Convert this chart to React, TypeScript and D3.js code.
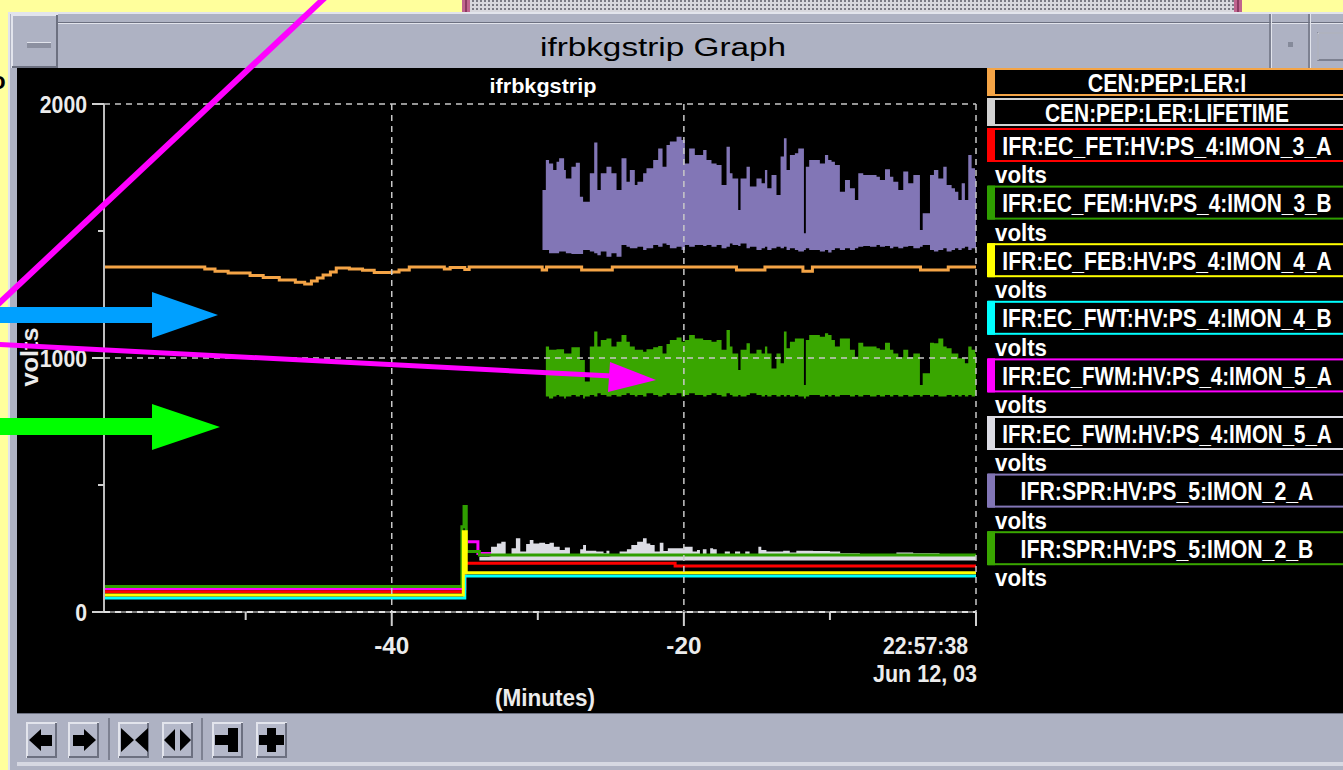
import * as React from "react";
import * as d3 from "d3";

const WIDTH = 1343;
const HEIGHT = 770;
const NOW = 0; // minutes relative to 22:57:38
const T_START = -59.7;

const FONT = "'Liberation Sans', Arimo, 'DejaVu Sans', sans-serif";

// axis ticks
const yMajorTicks = [0, 1000, 2000];
const yMinorTicks = [500, 1500];
const xMajorTicks = [-40, -20];
const xMinorTicks = [-50, -30, -10];

// legend
const legendLabels = [
  "CEN:PEP:LER:I",
  "CEN:PEP:LER:LIFETIME",
  "IFR:EC_FET:HV:PS_4:IMON_3_A",
  "IFR:EC_FEM:HV:PS_4:IMON_3_B",
  "IFR:EC_FEB:HV:PS_4:IMON_4_A",
  "IFR:EC_FWT:HV:PS_4:IMON_4_B",
  "IFR:EC_FWM:HV:PS_4:IMON_5_A",
  "IFR:EC_FWM:HV:PS_4:IMON_5_A",
  "IFR:SPR:HV:PS_5:IMON_2_A",
  "IFR:SPR:HV:PS_5:IMON_2_B",
];
const legendColors = [
  "#f4a446", "#d2d2d2", "#ff0000", "#2f9e00", "#ffff00",
  "#00ffff", "#ff00ff", "#dcdce4", "#8276b6", "#39a600",
];
const legendUnits = ["", "", "volts", "volts", "volts", "volts", "volts", "volts", "volts", "volts"];

// CEN:PEP:LER:I (stepped)
const lerITimes = [-59.7, -52.8, -52.1, -51.2, -49.7, -48.8, -47.7, -46.6, -45.96, -45.5, -45.1, -44.7, -44.2, -43.8, -42.9, -42.0, -41.2, -40.0, -39.5, -38.8, -36.4, -36.0, -35.0, -34.7, -29.7, -29.4, -27.0, -24.9, -16.4, -14.45, -11.85, -11.2, -3.8, -1.9];
const lerIValues = [1358, 1350, 1342, 1335, 1325, 1317, 1307, 1298, 1291, 1303, 1315, 1327, 1339, 1354, 1350, 1345, 1337, 1339, 1346, 1358, 1350, 1356, 1348, 1358, 1346, 1358, 1346, 1358, 1346, 1358, 1342, 1358, 1346, 1358];

// IFR:SPR bands (min / max in each sample window)
const sprTimes = [
  -29.68, -29.45, -29.23, -28.95, -28.72, -28.54, -28.2, -28.08, -27.7, -27.4,
  -27.12, -26.9, -26.78, -26.44, -26.14, -25.92, -25.69, -25.3, -24.96, -24.61,
  -24.27, -23.93, -23.7, -23.36, -23.18, -22.79, -22.56, -22.1, -21.76, -21.46,
  -21.19, -20.96, -20.5, -20.16, -19.93, -19.64, -19.25, -18.68, -18.45, -18.11,
  -17.76, -17.42, -17.08, -16.85, -16.67, -16.28, -16.12, -15.71, -15.48, -15.03,
  -14.68, -14.45, -14.29, -14.0, -13.66, -13.38, -13.15, -12.97, -12.74, -12.4,
  -12.17, -11.78, -11.65, -11.42, -10.69, -10.34, -10.12, -9.89, -9.66, -9.32,
  -8.97, -8.63, -8.29, -8.06, -7.72, -7.26, -6.81, -6.58, -6.23, -5.89,
  -5.66, -5.32, -4.98, -4.64, -4.29, -3.84, -3.65, -3.15, -2.88, -2.58,
  -2.24, -2.01, -1.67, -1.44, -1.21, -0.98, -0.76, -0.53, -0.3, -0.07,
];
const sprAHigh = [
  1661, 1780, 1766, 1740, 1773, 1786, 1740, 1707, 1753, 1769,
  1635, 1615, 1615, 1727, 1848, 1661, 1727, 1753, 1727, 1661,
  1786, 1694, 1740, 1681, 1694, 1727, 1747, 1780, 1825, 1753,
  1839, 1852, 1871, 1858, 1766, 1825, 1799, 1819, 1780, 1766,
  1760, 1681, 1832, 1727, 1707, 1583, 1707, 1753, 1675, 1707,
  1688, 1740, 1668, 1720, 1642, 1793, 1865, 1740, 1799, 1806,
  1825, 1491, 1753, 1780, 1766, 1799, 1780, 1773, 1760, 1655,
  1701, 1668, 1622, 1727, 1720, 1720, 1714, 1701, 1743, 1714,
  1694, 1661, 1734, 1688, 1720, 1504, 1570, 1720, 1740, 1707,
  1753, 1681, 1668, 1655, 1622, 1688, 1622, 1799, 1747, 1707,
];
const sprALow = [
  1425, 1425, 1412, 1412, 1412, 1419, 1419, 1412, 1409, 1409,
  1409, 1425, 1425, 1419, 1412, 1405, 1419, 1399, 1412, 1399,
  1445, 1438, 1432, 1432, 1438, 1425, 1432, 1445, 1438, 1451,
  1445, 1432, 1438, 1425, 1445, 1438, 1445, 1441, 1445, 1438,
  1445, 1432, 1438, 1451, 1445, 1441, 1451, 1432, 1438, 1425,
  1432, 1438, 1425, 1432, 1438, 1432, 1438, 1425, 1432, 1425,
  1419, 1425, 1432, 1425, 1419, 1425, 1415, 1425, 1432, 1425,
  1432, 1425, 1432, 1438, 1441, 1438, 1445, 1438, 1441, 1432,
  1438, 1432, 1438, 1441, 1432, 1438, 1445, 1425, 1419, 1425,
  1432, 1419, 1425, 1432, 1425, 1432, 1438, 1425, 1432, 1425,
];
const sprBHigh = [
  NaN, 1045, 1032, 1032, 1034, 1034, 1018, 1018, 1042, 1042,
  992, 992, 907, 1045, 1104, 1045, 1071, 1077, 1045, 1064,
  1091, 1064, 1045, 1032, 1032, 1025, 1034, 1042, 1047, 1018,
  1055, 1071, 1081, 1064, 1071, 1091, 1077, 1071, 1071, 1064,
  1071, 1032, 1110, 1045, 1018, 953, 1032, 1058, 1018, 1032,
  1018, 1045, 1018, 959, 1018, 979, 1104, 1038, 1064, 1077,
  1077, 894, 1071, 1091, 1084, 1097, 1091, 1071, 1045, 1077,
  1077, 1032, 1005, 1060, 1045, 1045, 1038, 1032, 1060, 1032,
  1018, 1003, 1032, 1003, 1018, 894, 940, 1060, 1058, 1077,
  1045, 1038, 1018, 1018, 999, 999, 979, 1045, 1032, 1018,
];
const sprBLow = [
  NaN, 848, 841, 848, 854, 848, 841, 848, 854, 848,
  854, 841, 848, 854, 848, 861, 854, 848, 854, 848,
  854, 861, 854, 848, 854, 848, 861, 854, 848, 854,
  861, 854, 861, 848, 854, 861, 854, 848, 854, 861,
  854, 848, 861, 854, 848, 854, 848, 854, 861, 854,
  848, 854, 848, 854, 848, 854, 848, 854, 848, 854,
  848, 841, 848, 854, 848, 854, 848, 854, 848, 854,
  854, 848, 854, 848, 854, 848, 854, 848, 854, 848,
  854, 848, 854, 848, 854, 848, 854, 848, 854, 848,
  848, 854, 848, 854, 848, 854, 848, 854, 848, 854,
];

// IFR:EC_FWM (light gray) spiky trace, drawn from its floor
const fwmGrayTimes = [-34.0, -33.2, -32.8, -32.5, -32.2, -31.8, -31.5, -31.2, -30.8, -30.55, -30.3, -29.9, -29.5, -29.2, -28.9, -28.5, -28.15, -27.8, -27.1, -26.9, -26.7, -26.0, -25.5, -25.3, -25.1, -24.85, -24.4, -23.9, -23.6, -23.2, -22.8, -22.55, -22.3, -22.0, -21.65, -21.4, -21.1, -20.05, -19.4, -19.1, -18.9, -18.7, -18.45, -18.2, -18.0, -17.75, -17.2, -16.85, -16.5, -16.15, -15.8, -15.5, -14.9, -14.7, -14.35, -13.9, -13.2, -12.75, -12.3, -11.15, -10.0, -9.3, -7.95, -5.45, -4.3, -2.5];
const fwmGrayHigh = [218, 257, 270, 277, 224, 251, 290, 238, 268, 283, 270, 273, 268, 273, 257, 244, 254, 224, 247, 264, 241, 238, 231, 241, 224, 220, 238, 247, 264, 277, 290, 270, 264, 238, 273, 240, 251, 257, 238, 244, 224, 247, 220, 251, 247, 224, 238, 224, 238, 224, 238, 224, 257, 244, 238, 238, 241, 234, 241, 240, 238, 231, 224, 234, 231, 224];
const fwmGrayFloor = 203;

// low-level HV currents (stepped)
const fwmTimes = [-59.7, -35.0, -34.1, -33.2];
const fwmValues = [92, 277, 230, 215];
const femTimes = [-59.7, -35.2, -35.05, -34.9, -34.0];
const femValues = [100, 336, 415, 238, 224];
const fetTimes = [-59.7, -35.0, -20.6];
const fetValues = [80, 192, 181];
const febTimes = [-59.7, -35.1, -34.9];
const febValues = [67, 316, 155];
const fwtTimes = [-59.7, -35.0];
const fwtValues = [55, 142];

const x = d3.scaleLinear().domain([T_START, NOW]).range([104, 976]);
const y = d3.scaleLinear().domain([0, 2000]).range([612, 104]);

type Pt = [number, number];
type Band = [number, number, number];

const stepLine = d3.line<Pt>().x(d => x(d[0])).y(d => y(d[1])).curve(d3.curveStepAfter);
const bandArea = d3.area<Band>()
  .defined(d => !isNaN(d[1]))
  .x(d => x(d[0])).y0(d => y(d[1])).y1(d => y(d[2]))
  .curve(d3.curveStepAfter);

function stepPts(times: number[], values: number[]): Pt[] {
  const pts = times.map((t, i) => [t, values[i]] as Pt);
  pts.push([NOW, values[values.length - 1]]);
  return pts;
}

function bandPts(times: number[], lo: number[] | number, hi: number[]): Band[] {
  const low = (i: number) => (typeof lo === "number" ? lo : lo[i]);
  const pts = times.map((t, i) => [t, low(i), hi[i]] as Band);
  const last = times.length - 1;
  pts.push([NOW, low(last), hi[last]]);
  return pts;
}

const GRAY = "#aeb2c3";
const LIGHT = "#e2e4ec";
const DARK = "#6c7080";
const INK = "#ececec";

// narrow bold label, squeezed to the given width and centred on cx
function Label(p: { cx: number; y: number; w: number; size?: number; fill?: string; bold?: boolean; children: string }) {
  return (
    <text x={p.cx} y={p.y} textAnchor="middle" fontFamily={FONT} fontWeight={p.bold === false ? "normal" : "bold"}
      fontSize={p.size || 24} textLength={p.w} lengthAdjust="spacingAndGlyphs" fill={p.fill || INK}>
      {p.children}
    </text>
  );
}

function Bevel(p: { x: number; y: number; w: number; h: number; fill?: string }) {
  const { x: bx, y: by, w, h } = p;
  return (
    <g>
      <rect x={bx} y={by} width={w} height={h} fill={p.fill || "#b4b8c9"} />
      <path d={`M${bx + 1},${by + h}V${by + 1}H${bx + w}`} stroke={LIGHT} strokeWidth={2} fill="none" />
      <path d={`M${bx + 1},${by + h - 1}H${bx + w - 1}V${by + 1}`} stroke={DARK} strokeWidth={2} fill="none" />
    </g>
  );
}

export default function App() {
  React.useEffect(() => {
    document.body.style.margin = "0";
  }, []);

  const gridColor = "#c8c8c8";
  const dash = "6 5";

  const legend = legendLabels.map((label, i) => {
    const top = i < 2 ? 68 + i * 30 : 128 + (i - 2) * 57.6;
    const h = i < 2 ? 28 : 34;
    return { label, color: legendColors[i], unit: legendUnits[i], top, h };
  });

  return (
    <svg width={WIDTH} height={HEIGHT} style={{ position: "absolute", left: 0, top: 0, display: "block" }}>
      <defs>
        <pattern id="dots" width="4" height="4" patternUnits="userSpaceOnUse">
          <rect width="4" height="4" fill="#d8d8de" />
          <rect x="0" y="0" width="2" height="2" fill="#7a7a84" />
        </pattern>
      </defs>

      {/* desktop */}
      <rect width={WIDTH} height={HEIGHT} fill="#ffff9c" />

      {/* pink window bar behind */}
      <rect x={462} y={-6} width={780} height={34} fill="#c0648e" />
      <rect x={466} y={-6} width={772} height={30} fill="none" stroke="#8c3a62" strokeWidth={2} />
      <rect x={470} y={-6} width={764} height={22} fill="url(#dots)" />

      {/* window frame */}
      <rect x={8} y={12} width={WIDTH} height={HEIGHT} fill={GRAY} />
      <path d={`M9,${HEIGHT}V13H${WIDTH}`} stroke={LIGHT} strokeWidth={2} fill="none" />
      <line x1={18} y1={22.5} x2={WIDTH} y2={22.5} stroke={DARK} strokeWidth={1} />
      <line x1={18} y1={23.5} x2={WIDTH} y2={23.5} stroke={LIGHT} strokeWidth={1} />
      {/* title bar buttons */}
      <Bevel x={11} y={14} w={47} h={54} fill={GRAY} />
      <rect x={27} y={42} width={24} height={6} fill="#8c90a0" />
      <line x1={27} y1={42.5} x2={51} y2={42.5} stroke={LIGHT} />
      <line x1={1270} y1={14} x2={1270} y2={68} stroke={DARK} strokeWidth={1.5} />
      <line x1={1271.5} y1={14} x2={1271.5} y2={68} stroke={LIGHT} strokeWidth={1} />
      <line x1={1309} y1={14} x2={1309} y2={68} stroke={DARK} strokeWidth={1.5} />
      <line x1={1310.5} y1={14} x2={1310.5} y2={68} stroke={LIGHT} strokeWidth={1} />
      <rect x={1288} y={42} width={5} height={5} fill="#858a9a" />
      <rect x={1318} y={33} width={30} height={27} fill="none" stroke={DARK} strokeWidth={1.5} />
      <path d="M1318,60V33H1348" stroke={LIGHT} strokeWidth={1} fill="none" />
      <Label cx={663} y={56} w={246} size={26} bold={false} fill="#000">ifrbkgstrip Graph</Label>

      {/* plot canvas */}
      <rect x={17} y={68} width={WIDTH - 17} height={645} fill="#000" />

      {/* chart title */}
      <Label cx={543} y={93} w={107} size={21} fill="#fff">ifrbkgstrip</Label>

      {/* data */}
      <path d={bandArea(bandPts(sprTimes, sprALow, sprAHigh)) || ""} fill={legendColors[8]} />
      <path d={bandArea(bandPts(sprTimes, sprBLow, sprBHigh)) || ""} fill={legendColors[9]} />
      <path d={stepLine(stepPts(lerITimes, lerIValues)) || ""} fill="none" stroke={legendColors[0]} strokeWidth={3} />
      <path d={stepLine(stepPts(fwmTimes, fwmValues)) || ""} fill="none" stroke={legendColors[6]} strokeWidth={3} />
      <path d={bandArea(bandPts(fwmGrayTimes, fwmGrayFloor, fwmGrayHigh)) || ""} fill={legendColors[7]} />
      <path d={stepLine(stepPts(femTimes, femValues)) || ""} fill="none" stroke={legendColors[3]} strokeWidth={3} />
      <path d={stepLine(stepPts(fetTimes, fetValues)) || ""} fill="none" stroke={legendColors[2]} strokeWidth={3} />
      <path d={stepLine(stepPts(fwtTimes, fwtValues)) || ""} fill="none" stroke={legendColors[5]} strokeWidth={3} />
      <path d={stepLine(stepPts(febTimes, febValues)) || ""} fill="none" stroke={legendColors[4]} strokeWidth={3} />

      {/* grid */}
      {[1000, 2000].map(v => (
        <line key={`gy${v}`} x1={x(T_START)} x2={x(NOW)} y1={y(v)} y2={y(v)} stroke={gridColor} strokeWidth={1.5} strokeDasharray={dash} />
      ))}
      {[...xMajorTicks, NOW].map(t => (
        <line key={`gx${t}`} x1={x(t)} x2={x(t)} y1={y(2000)} y2={y(0)} stroke={gridColor} strokeWidth={1.5} strokeDasharray={dash} />
      ))}

      {/* axes */}
      <line x1={x(T_START)} x2={x(T_START)} y1={y(2000)} y2={y(0)} stroke="#bdbdbd" strokeWidth={2} />
      <line x1={x(T_START)} x2={x(NOW)} y1={y(0)} y2={y(0)} stroke="#777" strokeWidth={2} />
      <line x1={x(T_START)} x2={x(NOW)} y1={y(0)} y2={y(0)} stroke="#e0e0e0" strokeWidth={2} strokeDasharray={dash} />
      {yMajorTicks.map(v => {
        const w = String(v).length * 11.8;
        return (
          <g key={`ty${v}`}>
            <line x1={x(T_START) - 12} x2={x(T_START)} y1={y(v)} y2={y(v)} stroke="#d0d0d0" strokeWidth={2} />
            <Label cx={x(T_START) - 17 - w / 2} y={y(v) + 8.5} w={w}>{String(v)}</Label>
          </g>
        );
      })}
      {yMinorTicks.map(v => (
        <line key={`my${v}`} x1={x(T_START) - 6} x2={x(T_START)} y1={y(v)} y2={y(v)} stroke="#d0d0d0" strokeWidth={2} />
      ))}
      {[...xMajorTicks, NOW].map(t => (
        <line key={`tx${t}`} x1={x(t)} x2={x(t)} y1={y(0)} y2={y(0) + 14} stroke="#d0d0d0" strokeWidth={2} />
      ))}
      {xMinorTicks.map(t => (
        <line key={`mx${t}`} x1={x(t)} x2={x(t)} y1={y(0)} y2={y(0) + 8} stroke="#d0d0d0" strokeWidth={2} />
      ))}
      {xMajorTicks.map(t => (
        <Label key={`lx${t}`} cx={x(t)} y={654} w={35}>{`-${Math.abs(t)}`}</Label>
      ))}
      <Label cx={925.5} y={654} w={85}>22:57:38</Label>
      <Label cx={925} y={682} w={104}>Jun 12, 03</Label>
      <Label cx={545} y={706} w={100}>(Minutes)</Label>
      <g transform="translate(38,357) rotate(-90)">
        <Label cx={0} y={0} w={59}>volts</Label>
      </g>

      {/* legend */}
      {legend.map((d, i) => (
        <g key={`lg${i}`}>
          <rect x={989} y={d.top + 1} width={380} height={d.h - 2} fill="#000" stroke={d.color} strokeWidth={2} />
          <rect x={987} y={d.top} width={8} height={d.h} fill={d.color} />
          <Label cx={1167} y={d.top + d.h / 2 + 9.5} w={d.label.length * 12.2} size={26} fill="#fff">{d.label}</Label>
          {d.unit && <Label cx={1021} y={d.top + 55} w={52} size={23} fill="#fff">{d.unit}</Label>}
        </g>
      ))}

      {/* toolbar */}
      <rect x={17} y={713} width={WIDTH} height={50} fill={GRAY} />
      <line x1={17} y1={713.5} x2={WIDTH} y2={713.5} stroke={DARK} strokeWidth={1} />
      <rect x={17} y={762} width={WIDTH} height={4} fill="#d6d8e2" />
      <line x1={109} y1={718} x2={109} y2={760} stroke={DARK} strokeWidth={1.5} />
      <line x1={202} y1={718} x2={202} y2={760} stroke={DARK} strokeWidth={1.5} />
      <Bevel x={26} y={722} w={31} h={36} />
      <Bevel x={68} y={722} w={31} h={36} />
      <Bevel x={118} y={722} w={31} h={36} />
      <Bevel x={162} y={722} w={31} h={36} />
      <Bevel x={212} y={722} w={31} h={36} />
      <Bevel x={256} y={722} w={31} h={36} />
      <path d="M29,740L41,729V735H52V746H41V751Z" fill="#000" />
      <path d="M96,740L84,729V735H73V746H84V751Z" fill="#000" />
      <path d="M121,728L134,740L121,752Z M148,728L135,740L148,752Z" fill="#000" />
      <path d="M164,740L175,729V751Z M191,740L180,729V751Z" fill="#000" />
      <path d="M215,735H228V728H238V752H228V745H215Z" fill="#000" />
      <path d="M267,728H276V735H284V745H276V752H267V745H259V735H267Z" fill="#000" />

      {/* annotation overlays */}
      <line x1={333} y1={-10} x2={-6} y2={308} stroke="#ff00ff" strokeWidth={6} />
      <path d="M-10,307H152V292L218,315L152,338V323H-10Z" fill="#00a0ff" />
      <path d="M-10,418H152V404L220,427L152,450V435H-10Z" fill="#00ff00" />
      <line x1={-10} y1={344} x2={612} y2={376} stroke="#ff00ff" strokeWidth={5} />
      <path d="M610,362L656,380L608,392Z" fill="#ff00ff" />
      <text x={-9} y={89} fontFamily={FONT} fontWeight="bold" fontSize={24} fill="#000">o</text>
    </svg>
  );
}
